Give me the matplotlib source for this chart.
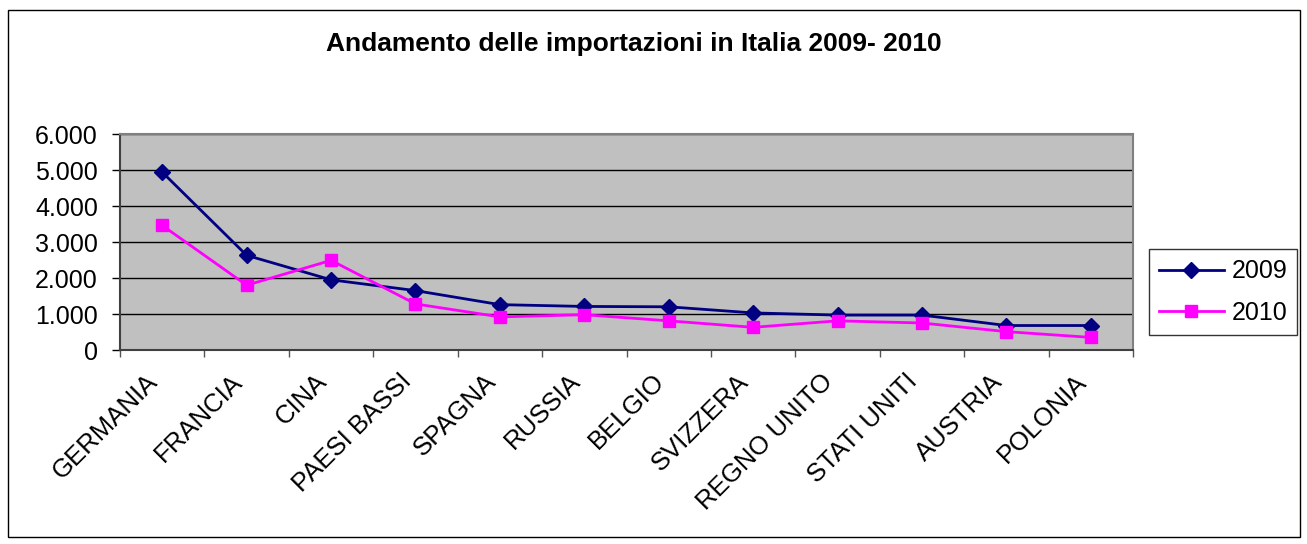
import matplotlib.pyplot as plt
import numpy as np
from matplotlib.ticker import FuncFormatter, FixedLocator
from matplotlib.patches import Rectangle
from matplotlib.transforms import ScaledTranslation

# dati importazioni (migliaia)
paesi = ['GERMANIA', 'FRANCIA', 'CINA', 'PAESI BASSI', 'SPAGNA', 'RUSSIA',
         'BELGIO', 'SVIZZERA', 'REGNO UNITO', 'STATI UNITI', 'AUSTRIA', 'POLONIA']
imp_2009 = [4940, 2630, 1950, 1650, 1260, 1210, 1200, 1030, 970, 970, 680, 680]
imp_2010 = [3460, 1800, 2490, 1280, 920, 980, 810, 630, 810, 750, 510, 350]
y_ticks = [0, 1000, 2000, 3000, 4000, 5000, 6000]

plt.rcParams['font.family'] = ['Liberation Sans', 'DejaVu Sans']

fig = plt.figure(figsize=(13.07, 5.44), dpi=100)
ax = fig.add_axes([120/1307, 1 - 350/544, (1133-120)/1307, (350-134)/544])

x = np.arange(len(paesi))
ax.plot(x, imp_2009, color='#000080', marker='D', markersize=8, linewidth=2, label='2009')
ax.plot(x, imp_2010, color='#FF00FF', marker='s', markersize=9, linewidth=2, label='2010')

ax.set_facecolor('#C0C0C0')
ax.set_xlim(-0.5, len(paesi) - 0.5)
ax.set_ylim(0, 6000)
ax.set_yticks(y_ticks)
ax.yaxis.set_major_formatter(FuncFormatter(lambda v, p: f'{int(v):,}'.replace(',', '.')))
ax.yaxis.grid(True, color='black', linewidth=1)
ax.set_axisbelow(True)
ax.tick_params(axis='y', labelsize=18, length=6, direction='out', width=1, pad=10)

ax.set_xticks(x)
ax.set_xticklabels(paesi, rotation=45, ha='right', va='center',
                   rotation_mode='anchor', fontsize=18.5)
ax.tick_params(axis='x', which='major', length=0, pad=20)
shift = ScaledTranslation(-8/100, 0, fig.dpi_scale_trans)
for lab in ax.get_xticklabels():
    lab.set_transform(lab.get_transform() + shift)
ax.xaxis.set_minor_locator(FixedLocator(np.arange(-0.5, len(paesi), 1)))
ax.tick_params(axis='x', which='minor', length=5, width=1, color='#555555')

for s in ['top', 'right']:
    ax.spines[s].set_color('#808080')
    ax.spines[s].set_linewidth(1.5)
for s in ['left', 'bottom']:
    ax.spines[s].set_color('#404040')
    ax.spines[s].set_linewidth(1.5)

fig.text(634/1307, 1 - 44/544, 'Andamento delle importazioni in Italia 2009- 2010',
         ha='center', va='center', fontsize=19, fontweight='bold')

leg = fig.legend(loc='center', bbox_to_anchor=(1223/1307, 1 - 292/544), fontsize=18,
                 frameon=True, fancybox=False, edgecolor='black', handlelength=2.6,
                 labelspacing=0.7, borderpad=0.4, handletextpad=0.3)
leg.get_frame().set_linewidth(1)

# bordo esterno del grafico
fig.patches.append(Rectangle((8/1307, 1 - 537/544), (1300-8)/1307, (537-10)/544,
                             transform=fig.transFigure, fill=False,
                             edgecolor='black', linewidth=1))

fig.savefig('out.png', dpi=100)
